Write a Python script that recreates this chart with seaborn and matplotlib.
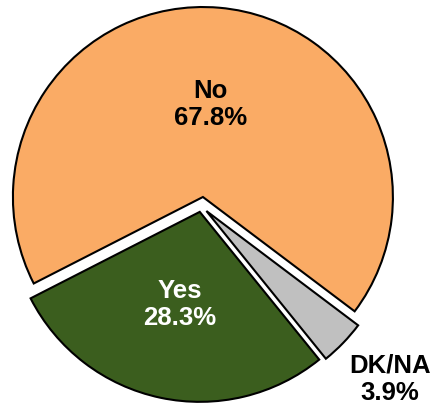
import numpy as np
import seaborn as sns
import matplotlib.pyplot as plt

# data
labels = ["No", "Yes", "DK/NA"]
values = [67.8, 28.3, 3.9]
colors = ["#FAAB65", "#3B5E1E", "#C0C0C0"]
text_colors = ["black", "white", "black"]

# slice pull-out: distance and direction (None = along the slice bisector)
explode = [0.0, 0.08, 0.076]
explode_dir = [None, None, 284]
label_dist = [0.487, 0.5, 1.31]
label_turn = [0, 0, 1.5]

sns.set_theme(style="white")
plt.rcParams["font.family"] = ["Liberation Sans", "DejaVu Sans"]

fig = plt.figure(figsize=(4.33, 4.13), dpi=100)
ax = fig.add_axes([0, 0, 1, 1])

wedges, _ = ax.pie(values, colors=colors, startangle=-37, counterclock=True,
                   radius=1.0,
                   wedgeprops=dict(edgecolor="black", linewidth=1.5))

for w, lab, v, tc, e, ed, d, t in zip(wedges, labels, values, text_colors,
                                      explode, explode_dir, label_dist, label_turn):
    mid = (w.theta1 + w.theta2) / 2
    ang = np.deg2rad(mid if ed is None else ed)
    cx, cy = e * np.cos(ang), e * np.sin(ang)
    w.set_center((cx, cy))
    la = np.deg2rad(mid + t)
    ax.text(cx + d * np.cos(la), cy + d * np.sin(la), f"{lab}\n{v:.1f}%",
            ha="center", va="center", color=tc, fontsize=18.5,
            fontweight="bold", linespacing=1.15)

ax.set_xlim(-1.068, 1.211)
ax.set_ylim(-1.137, 1.037)
ax.set_aspect("auto")
ax.axis("off")

fig.savefig("out.png", dpi=100, facecolor="white")
